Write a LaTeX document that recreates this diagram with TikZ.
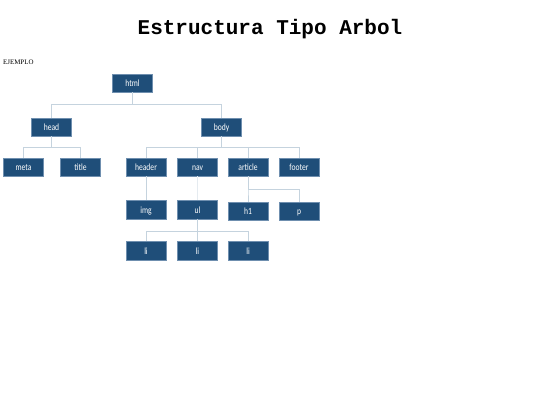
\documentclass[tikz,border=0pt]{standalone}
\usepackage{fontspec}
\setmainfont{Liberation Serif}
\newfontfamily\boxfont[FakeStretch=0.8]{Carlito}
\newfontfamily\titlefont{Liberation Mono}
\definecolor{boxblue}{HTML}{1F4E79}
\definecolor{boxedge}{HTML}{6F8FAF}
\definecolor{linec}{HTML}{C5D3DE}
\begin{document}
\begin{tikzpicture}[x=1pt,y=-1pt,
  tag/.style={rectangle,fill=boxblue,draw=boxedge,line width=0.4pt,minimum width=40pt,minimum height=18.5pt,inner sep=0pt,text height=8pt,text depth=0.5pt,text=white,font=\boxfont\fontsize{9.5}{10}\selectfont},
  conn/.style={draw=linec,line width=0.7pt},
  faint/.style={draw=linec!45,line width=0.6pt}]
\useasboundingbox[fill=white] (0,0) rectangle (540,405);
\node[font=\titlefont\bfseries\fontsize{21}{23}\selectfont] (ttl) at (270,29.5) {Estructura Tipo Arbol};
\node[font=\fontsize{6.9}{7}\selectfont,anchor=west,inner sep=0pt] (ej) at (3,62) {EJEMPLO};
\node[tag] (html) at (132.5,83) {html};
\node[tag] (head) at (51.5,127) {head};
\node[tag] (body) at (221.5,127) {body};
\node[tag] (meta) at (23.5,167) {meta};
\node[tag] (title) at (80.5,167) {title};
\node[tag] (header) at (146,167) {header};
\node[tag] (nav) at (197.5,167) {nav};
\node[tag] (article) at (248,167) {article};
\node[tag] (footer) at (299,167) {footer};
\node[tag] (img) at (146,209.5) {img};
\node[tag] (ul) at (197.5,209.5) {ul};
\node[tag] (h1) at (248,211) {h1};
\node[tag] (p) at (299,211) {p};
\node[tag] (li1) at (146,250.5) {li};
\node[tag] (li2) at (197.5,250.5) {li};
\node[tag] (li3) at (248,250.5) {li};
% html
\draw[conn] (html.south) -- ++(0,12) -| (head.north);
\draw[conn] (html.south) -- ++(0,12) -| (body.north);
% head
\draw[conn] (head.south) -- ++(0,11) -| (meta.north);
\draw[conn] (head.south) -- ++(0,11) -| (title.north);
% body
\foreach \c in {header,nav,article,footer}
  \draw[conn] (body.south) -- ++(0,11) -| (\c.north);
% header, nav
\draw[conn] (header.south) -- (img.north);
\draw[faint] (nav.south) -- (ul.north);
% article
\draw[conn] (article.south) -- ++(0,13) -| (h1.north);
\draw[conn] (article.south) -- ++(0,13) -| (p.north);
% ul
\foreach \c in {li1,li2,li3}
  \draw[conn] (ul.south) -- ++(0,12) -| (\c.north);
\end{tikzpicture}
\end{document}
